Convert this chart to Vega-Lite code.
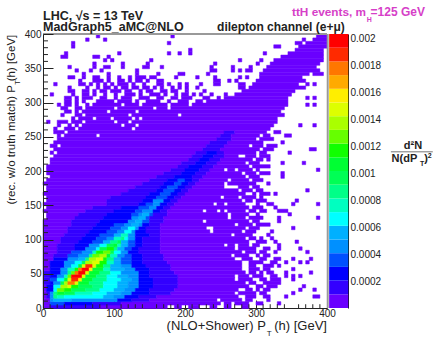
{"$schema":"https://vega.github.io/schema/vega-lite/v6.json","autosize":{"type":"none"},"padding":{"left":43,"top":34,"right":109,"bottom":35},"width":284,"height":274,"background":"white","config":{"view":{"stroke":null},"font":"Liberation Sans"},"datasets":{"cells":[
{"x":0,"x2":10,"y":0,"v":1},{"x":10,"x2":80,"y":0,"v":2},{"x":80,"x2":175,"y":0,"v":1},{"x":185,"x2":195,"y":0,"v":1},{"x":205,"x2":220,"y":0,"v":1},{"x":235,"x2":245,"y":0,"v":1},{"x":255,"x2":265,"y":0,"v":1},{"x":280,"x2":290,"y":0,"v":1},
{"x":0,"x2":10,"y":5,"v":1},{"x":10,"x2":30,"y":5,"v":4},{"x":30,"x2":70,"y":5,"v":3},{"x":70,"x2":110,"y":5,"v":2},{"x":110,"x2":250,"y":5,"v":1},{"x":255,"x2":265,"y":5,"v":1},{"x":270,"x2":290,"y":5,"v":1},{"x":300,"x2":310,"y":5,"v":1},{"x":330,"x2":335,"y":5,"v":1},
{"x":0,"x2":10,"y":10,"v":1},{"x":10,"x2":15,"y":10,"v":5},{"x":15,"x2":40,"y":10,"v":6},{"x":40,"x2":105,"y":10,"v":5},{"x":105,"x2":125,"y":10,"v":3},{"x":125,"x2":150,"y":10,"v":2},{"x":150,"x2":245,"y":10,"v":1},{"x":250,"x2":280,"y":10,"v":1},{"x":285,"x2":295,"y":10,"v":1},{"x":315,"x2":320,"y":10,"v":1},
{"x":0,"x2":5,"y":15,"v":1},{"x":5,"x2":10,"y":15,"v":2},{"x":10,"x2":15,"y":15,"v":5},{"x":15,"x2":20,"y":15,"v":9},{"x":20,"x2":30,"y":15,"v":8},{"x":30,"x2":85,"y":15,"v":7},{"x":85,"x2":100,"y":15,"v":6},{"x":100,"x2":115,"y":15,"v":5},{"x":115,"x2":135,"y":15,"v":3},{"x":135,"x2":160,"y":15,"v":2},{"x":160,"x2":275,"y":15,"v":1},{"x":285,"x2":300,"y":15,"v":1},{"x":310,"x2":320,"y":15,"v":1},{"x":340,"x2":345,"y":15,"v":1},{"x":380,"x2":390,"y":15,"v":1},
{"x":0,"x2":5,"y":20,"v":1},{"x":5,"x2":10,"y":20,"v":2},{"x":10,"x2":15,"y":20,"v":5},{"x":15,"x2":20,"y":20,"v":9},{"x":20,"x2":30,"y":20,"v":11},{"x":30,"x2":45,"y":20,"v":10},{"x":45,"x2":70,"y":20,"v":8},{"x":70,"x2":90,"y":20,"v":7},{"x":90,"x2":110,"y":20,"v":6},{"x":110,"x2":125,"y":20,"v":5},{"x":125,"x2":150,"y":20,"v":3},{"x":150,"x2":180,"y":20,"v":2},{"x":180,"x2":270,"y":20,"v":1},{"x":275,"x2":300,"y":20,"v":1},{"x":305,"x2":315,"y":20,"v":1},{"x":350,"x2":355,"y":20,"v":1},
{"x":0,"x2":5,"y":25,"v":1},{"x":5,"x2":15,"y":25,"v":3},{"x":15,"x2":20,"y":25,"v":7},{"x":20,"x2":30,"y":25,"v":13},{"x":30,"x2":40,"y":25,"v":12},{"x":40,"x2":60,"y":25,"v":10},{"x":60,"x2":80,"y":25,"v":9},{"x":80,"x2":100,"y":25,"v":7},{"x":100,"x2":115,"y":25,"v":6},{"x":115,"x2":130,"y":25,"v":5},{"x":130,"x2":150,"y":25,"v":3},{"x":150,"x2":185,"y":25,"v":2},{"x":185,"x2":275,"y":25,"v":1},{"x":285,"x2":295,"y":25,"v":1},{"x":300,"x2":305,"y":25,"v":1},{"x":310,"x2":320,"y":25,"v":1},{"x":360,"x2":365,"y":25,"v":1},{"x":380,"x2":385,"y":25,"v":1},
{"x":0,"x2":5,"y":30,"v":1},{"x":5,"x2":15,"y":30,"v":3},{"x":15,"x2":25,"y":30,"v":7},{"x":25,"x2":35,"y":30,"v":14},{"x":35,"x2":40,"y":30,"v":15},{"x":40,"x2":50,"y":30,"v":12},{"x":50,"x2":70,"y":30,"v":10},{"x":70,"x2":85,"y":30,"v":9},{"x":85,"x2":105,"y":30,"v":7},{"x":105,"x2":120,"y":30,"v":6},{"x":120,"x2":135,"y":30,"v":5},{"x":135,"x2":155,"y":30,"v":3},{"x":155,"x2":190,"y":30,"v":2},{"x":190,"x2":290,"y":30,"v":1},{"x":300,"x2":310,"y":30,"v":1},{"x":315,"x2":330,"y":30,"v":1},{"x":365,"x2":370,"y":30,"v":1},
{"x":0,"x2":10,"y":35,"v":2},{"x":10,"x2":15,"y":35,"v":3},{"x":15,"x2":25,"y":35,"v":5},{"x":25,"x2":30,"y":35,"v":10},{"x":30,"x2":35,"y":35,"v":14},{"x":35,"x2":45,"y":35,"v":18},{"x":45,"x2":50,"y":35,"v":15},{"x":50,"x2":65,"y":35,"v":11},{"x":65,"x2":85,"y":35,"v":9},{"x":85,"x2":105,"y":35,"v":7},{"x":105,"x2":120,"y":35,"v":6},{"x":120,"x2":135,"y":35,"v":5},{"x":135,"x2":155,"y":35,"v":3},{"x":155,"x2":190,"y":35,"v":2},{"x":190,"x2":285,"y":35,"v":1},{"x":290,"x2":300,"y":35,"v":1},{"x":310,"x2":335,"y":35,"v":1},
{"x":0,"x2":10,"y":40,"v":2},{"x":10,"x2":20,"y":40,"v":4},{"x":20,"x2":30,"y":40,"v":7},{"x":30,"x2":35,"y":40,"v":11},{"x":35,"x2":40,"y":40,"v":15},{"x":40,"x2":50,"y":40,"v":19},{"x":50,"x2":55,"y":40,"v":16},{"x":55,"x2":70,"y":40,"v":11},{"x":70,"x2":90,"y":40,"v":9},{"x":90,"x2":110,"y":40,"v":7},{"x":110,"x2":125,"y":40,"v":6},{"x":125,"x2":135,"y":40,"v":5},{"x":135,"x2":155,"y":40,"v":3},{"x":155,"x2":190,"y":40,"v":2},{"x":190,"x2":270,"y":40,"v":1},{"x":275,"x2":295,"y":40,"v":1},{"x":305,"x2":315,"y":40,"v":1},{"x":320,"x2":335,"y":40,"v":1},{"x":350,"x2":355,"y":40,"v":1},
{"x":0,"x2":10,"y":45,"v":2},{"x":10,"x2":20,"y":45,"v":3},{"x":20,"x2":30,"y":45,"v":5},{"x":30,"x2":35,"y":45,"v":8},{"x":35,"x2":40,"y":45,"v":13},{"x":40,"x2":55,"y":45,"v":20},{"x":55,"x2":60,"y":45,"v":15},{"x":60,"x2":75,"y":45,"v":11},{"x":75,"x2":90,"y":45,"v":9},{"x":90,"x2":105,"y":45,"v":7},{"x":105,"x2":120,"y":45,"v":6},{"x":120,"x2":135,"y":45,"v":5},{"x":135,"x2":150,"y":45,"v":3},{"x":150,"x2":190,"y":45,"v":2},{"x":190,"x2":270,"y":45,"v":1},{"x":275,"x2":290,"y":45,"v":1},{"x":295,"x2":310,"y":45,"v":1},{"x":320,"x2":330,"y":45,"v":1},{"x":340,"x2":345,"y":45,"v":1},{"x":350,"x2":355,"y":45,"v":1},{"x":360,"x2":365,"y":45,"v":1},
{"x":0,"x2":10,"y":50,"v":2},{"x":10,"x2":25,"y":50,"v":3},{"x":25,"x2":35,"y":50,"v":5},{"x":35,"x2":40,"y":50,"v":9},{"x":40,"x2":45,"y":50,"v":13},{"x":45,"x2":50,"y":50,"v":18},{"x":50,"x2":60,"y":50,"v":20},{"x":60,"x2":65,"y":50,"v":15},{"x":65,"x2":80,"y":50,"v":11},{"x":80,"x2":95,"y":50,"v":9},{"x":95,"x2":110,"y":50,"v":7},{"x":110,"x2":135,"y":50,"v":5},{"x":135,"x2":150,"y":50,"v":3},{"x":150,"x2":185,"y":50,"v":2},{"x":185,"x2":285,"y":50,"v":1},{"x":290,"x2":300,"y":50,"v":1},{"x":305,"x2":310,"y":50,"v":1},{"x":315,"x2":325,"y":50,"v":1},{"x":340,"x2":345,"y":50,"v":1},{"x":375,"x2":380,"y":50,"v":1},
{"x":0,"x2":10,"y":55,"v":1},{"x":10,"x2":25,"y":55,"v":3},{"x":25,"x2":35,"y":55,"v":5},{"x":35,"x2":45,"y":55,"v":8},{"x":45,"x2":50,"y":55,"v":12},{"x":50,"x2":55,"y":55,"v":18},{"x":55,"x2":65,"y":55,"v":20},{"x":65,"x2":70,"y":55,"v":16},{"x":70,"x2":85,"y":55,"v":11},{"x":85,"x2":95,"y":55,"v":8},{"x":95,"x2":115,"y":55,"v":6},{"x":115,"x2":130,"y":55,"v":5},{"x":130,"x2":150,"y":55,"v":3},{"x":150,"x2":180,"y":55,"v":2},{"x":180,"x2":280,"y":55,"v":1},{"x":290,"x2":305,"y":55,"v":1},{"x":310,"x2":320,"y":55,"v":1},{"x":350,"x2":355,"y":55,"v":1},
{"x":0,"x2":10,"y":60,"v":1},{"x":10,"x2":30,"y":60,"v":3},{"x":30,"x2":40,"y":60,"v":5},{"x":40,"x2":50,"y":60,"v":7},{"x":50,"x2":55,"y":60,"v":11},{"x":55,"x2":60,"y":60,"v":15},{"x":60,"x2":70,"y":60,"v":19},{"x":70,"x2":75,"y":60,"v":15},{"x":75,"x2":85,"y":60,"v":12},{"x":85,"x2":95,"y":60,"v":9},{"x":95,"x2":110,"y":60,"v":6},{"x":110,"x2":125,"y":60,"v":5},{"x":125,"x2":145,"y":60,"v":3},{"x":145,"x2":180,"y":60,"v":2},{"x":180,"x2":280,"y":60,"v":1},{"x":290,"x2":300,"y":60,"v":1},{"x":310,"x2":325,"y":60,"v":1},{"x":330,"x2":335,"y":60,"v":1},
{"x":0,"x2":10,"y":65,"v":1},{"x":10,"x2":30,"y":65,"v":3},{"x":30,"x2":45,"y":65,"v":5},{"x":45,"x2":55,"y":65,"v":7},{"x":55,"x2":60,"y":65,"v":10},{"x":60,"x2":70,"y":65,"v":14},{"x":70,"x2":80,"y":65,"v":15},{"x":80,"x2":90,"y":65,"v":12},{"x":90,"x2":100,"y":65,"v":8},{"x":100,"x2":110,"y":65,"v":6},{"x":110,"x2":125,"y":65,"v":4},{"x":125,"x2":140,"y":65,"v":3},{"x":140,"x2":175,"y":65,"v":2},{"x":175,"x2":280,"y":65,"v":1},{"x":290,"x2":310,"y":65,"v":1},{"x":320,"x2":330,"y":65,"v":1},{"x":340,"x2":345,"y":65,"v":1},{"x":360,"x2":365,"y":65,"v":1},{"x":370,"x2":375,"y":65,"v":1},
{"x":0,"x2":15,"y":70,"v":1},{"x":15,"x2":35,"y":70,"v":3},{"x":35,"x2":50,"y":70,"v":5},{"x":50,"x2":60,"y":70,"v":6},{"x":60,"x2":65,"y":70,"v":9},{"x":65,"x2":75,"y":70,"v":14},{"x":75,"x2":85,"y":70,"v":15},{"x":85,"x2":90,"y":70,"v":12},{"x":90,"x2":100,"y":70,"v":9},{"x":100,"x2":110,"y":70,"v":6},{"x":110,"x2":125,"y":70,"v":4},{"x":125,"x2":140,"y":70,"v":3},{"x":140,"x2":170,"y":70,"v":2},{"x":170,"x2":270,"y":70,"v":1},{"x":280,"x2":295,"y":70,"v":1},{"x":305,"x2":315,"y":70,"v":1},{"x":325,"x2":335,"y":70,"v":1},{"x":350,"x2":355,"y":70,"v":1},{"x":375,"x2":380,"y":70,"v":1},
{"x":0,"x2":15,"y":75,"v":1},{"x":15,"x2":35,"y":75,"v":2},{"x":35,"x2":50,"y":75,"v":4},{"x":50,"x2":65,"y":75,"v":5},{"x":65,"x2":70,"y":75,"v":9},{"x":70,"x2":80,"y":75,"v":13},{"x":80,"x2":90,"y":75,"v":14},{"x":90,"x2":95,"y":75,"v":11},{"x":95,"x2":105,"y":75,"v":8},{"x":105,"x2":115,"y":75,"v":5},{"x":115,"x2":125,"y":75,"v":4},{"x":125,"x2":140,"y":75,"v":3},{"x":140,"x2":170,"y":75,"v":2},{"x":170,"x2":265,"y":75,"v":1},{"x":270,"x2":290,"y":75,"v":1},{"x":300,"x2":305,"y":75,"v":1},{"x":310,"x2":320,"y":75,"v":1},
{"x":0,"x2":20,"y":80,"v":1},{"x":20,"x2":40,"y":80,"v":2},{"x":40,"x2":55,"y":80,"v":4},{"x":55,"x2":70,"y":80,"v":5},{"x":70,"x2":75,"y":80,"v":8},{"x":75,"x2":85,"y":80,"v":12},{"x":85,"x2":95,"y":80,"v":13},{"x":95,"x2":100,"y":80,"v":10},{"x":100,"x2":110,"y":80,"v":7},{"x":110,"x2":120,"y":80,"v":5},{"x":120,"x2":135,"y":80,"v":3},{"x":135,"x2":165,"y":80,"v":2},{"x":165,"x2":280,"y":80,"v":1},{"x":285,"x2":300,"y":80,"v":1},{"x":305,"x2":315,"y":80,"v":1},{"x":325,"x2":330,"y":80,"v":1},{"x":370,"x2":375,"y":80,"v":1},
{"x":0,"x2":20,"y":85,"v":1},{"x":20,"x2":45,"y":85,"v":2},{"x":45,"x2":60,"y":85,"v":3},{"x":60,"x2":75,"y":85,"v":5},{"x":75,"x2":80,"y":85,"v":7},{"x":80,"x2":90,"y":85,"v":10},{"x":90,"x2":100,"y":85,"v":12},{"x":100,"x2":105,"y":85,"v":9},{"x":105,"x2":115,"y":85,"v":6},{"x":115,"x2":125,"y":85,"v":4},{"x":125,"x2":135,"y":85,"v":3},{"x":135,"x2":165,"y":85,"v":2},{"x":165,"x2":270,"y":85,"v":1},{"x":275,"x2":300,"y":85,"v":1},{"x":310,"x2":320,"y":85,"v":1},{"x":330,"x2":335,"y":85,"v":1},{"x":360,"x2":365,"y":85,"v":1},
{"x":0,"x2":20,"y":90,"v":1},{"x":20,"x2":45,"y":90,"v":2},{"x":45,"x2":65,"y":90,"v":3},{"x":65,"x2":80,"y":90,"v":5},{"x":80,"x2":90,"y":90,"v":7},{"x":90,"x2":100,"y":90,"v":10},{"x":100,"x2":105,"y":90,"v":11},{"x":105,"x2":110,"y":90,"v":8},{"x":110,"x2":120,"y":90,"v":6},{"x":120,"x2":130,"y":90,"v":4},{"x":130,"x2":140,"y":90,"v":3},{"x":140,"x2":165,"y":90,"v":2},{"x":165,"x2":255,"y":90,"v":1},{"x":260,"x2":270,"y":90,"v":1},{"x":275,"x2":290,"y":90,"v":1},{"x":295,"x2":305,"y":90,"v":1},{"x":330,"x2":335,"y":90,"v":1},
{"x":0,"x2":25,"y":95,"v":1},{"x":25,"x2":50,"y":95,"v":2},{"x":50,"x2":70,"y":95,"v":3},{"x":70,"x2":85,"y":95,"v":4},{"x":85,"x2":95,"y":95,"v":6},{"x":95,"x2":105,"y":95,"v":9},{"x":105,"x2":110,"y":95,"v":10},{"x":110,"x2":120,"y":95,"v":6},{"x":120,"x2":130,"y":95,"v":4},{"x":130,"x2":140,"y":95,"v":3},{"x":140,"x2":165,"y":95,"v":2},{"x":165,"x2":290,"y":95,"v":1},{"x":300,"x2":315,"y":95,"v":1},{"x":325,"x2":330,"y":95,"v":1},{"x":355,"x2":360,"y":95,"v":1},
{"x":0,"x2":25,"y":100,"v":1},{"x":25,"x2":55,"y":100,"v":2},{"x":55,"x2":75,"y":100,"v":3},{"x":75,"x2":90,"y":100,"v":4},{"x":90,"x2":100,"y":100,"v":5},{"x":100,"x2":110,"y":100,"v":8},{"x":110,"x2":115,"y":100,"v":9},{"x":115,"x2":120,"y":100,"v":7},{"x":120,"x2":130,"y":100,"v":5},{"x":130,"x2":140,"y":100,"v":3},{"x":140,"x2":165,"y":100,"v":2},{"x":165,"x2":285,"y":100,"v":1},{"x":290,"x2":300,"y":100,"v":1},{"x":305,"x2":310,"y":100,"v":1},{"x":320,"x2":325,"y":100,"v":1},
{"x":0,"x2":30,"y":105,"v":1},{"x":30,"x2":60,"y":105,"v":2},{"x":60,"x2":80,"y":105,"v":3},{"x":80,"x2":100,"y":105,"v":4},{"x":100,"x2":110,"y":105,"v":6},{"x":110,"x2":120,"y":105,"v":8},{"x":120,"x2":130,"y":105,"v":5},{"x":130,"x2":150,"y":105,"v":3},{"x":150,"x2":165,"y":105,"v":2},{"x":165,"x2":265,"y":105,"v":1},{"x":270,"x2":295,"y":105,"v":1},{"x":315,"x2":320,"y":105,"v":1},
{"x":0,"x2":35,"y":110,"v":1},{"x":35,"x2":65,"y":110,"v":2},{"x":65,"x2":90,"y":110,"v":3},{"x":90,"x2":105,"y":110,"v":4},{"x":105,"x2":115,"y":110,"v":5},{"x":115,"x2":125,"y":110,"v":7},{"x":125,"x2":130,"y":110,"v":5},{"x":130,"x2":145,"y":110,"v":3},{"x":145,"x2":165,"y":110,"v":2},{"x":165,"x2":235,"y":110,"v":1},{"x":240,"x2":280,"y":110,"v":1},{"x":285,"x2":300,"y":110,"v":1},{"x":320,"x2":325,"y":110,"v":1},
{"x":0,"x2":35,"y":115,"v":1},{"x":35,"x2":70,"y":115,"v":2},{"x":70,"x2":95,"y":115,"v":3},{"x":95,"x2":110,"y":115,"v":4},{"x":110,"x2":120,"y":115,"v":5},{"x":120,"x2":130,"y":115,"v":7},{"x":130,"x2":135,"y":115,"v":5},{"x":135,"x2":145,"y":115,"v":3},{"x":145,"x2":165,"y":115,"v":2},{"x":165,"x2":230,"y":115,"v":1},{"x":240,"x2":285,"y":115,"v":1},{"x":290,"x2":305,"y":115,"v":1},{"x":350,"x2":355,"y":115,"v":1},
{"x":0,"x2":40,"y":120,"v":1},{"x":40,"x2":75,"y":120,"v":2},{"x":75,"x2":100,"y":120,"v":3},{"x":100,"x2":115,"y":120,"v":4},{"x":115,"x2":125,"y":120,"v":5},{"x":125,"x2":135,"y":120,"v":6},{"x":135,"x2":140,"y":120,"v":5},{"x":140,"x2":150,"y":120,"v":3},{"x":150,"x2":165,"y":120,"v":2},{"x":165,"x2":270,"y":120,"v":1},{"x":275,"x2":295,"y":120,"v":1},{"x":300,"x2":320,"y":120,"v":1},
{"x":0,"x2":40,"y":125,"v":1},{"x":40,"x2":80,"y":125,"v":2},{"x":80,"x2":120,"y":125,"v":3},{"x":120,"x2":130,"y":125,"v":5},{"x":130,"x2":140,"y":125,"v":6},{"x":140,"x2":150,"y":125,"v":4},{"x":150,"x2":170,"y":125,"v":2},{"x":170,"x2":225,"y":125,"v":1},{"x":230,"x2":290,"y":125,"v":1},{"x":295,"x2":305,"y":125,"v":1},{"x":330,"x2":335,"y":125,"v":1},
{"x":5,"x2":45,"y":130,"v":1},{"x":45,"x2":85,"y":130,"v":2},{"x":85,"x2":125,"y":130,"v":3},{"x":125,"x2":135,"y":130,"v":5},{"x":135,"x2":145,"y":130,"v":6},{"x":145,"x2":150,"y":130,"v":4},{"x":150,"x2":170,"y":130,"v":2},{"x":170,"x2":260,"y":130,"v":1},{"x":265,"x2":285,"y":130,"v":1},{"x":290,"x2":310,"y":130,"v":1},{"x":330,"x2":335,"y":130,"v":1},{"x":385,"x2":390,"y":130,"v":1},
{"x":5,"x2":50,"y":135,"v":1},{"x":50,"x2":90,"y":135,"v":2},{"x":90,"x2":125,"y":135,"v":3},{"x":125,"x2":135,"y":135,"v":4},{"x":135,"x2":140,"y":135,"v":5},{"x":140,"x2":150,"y":135,"v":6},{"x":150,"x2":155,"y":135,"v":4},{"x":155,"x2":175,"y":135,"v":2},{"x":175,"x2":260,"y":135,"v":1},{"x":265,"x2":290,"y":135,"v":1},{"x":300,"x2":305,"y":135,"v":1},{"x":345,"x2":350,"y":135,"v":1},
{"x":0,"x2":60,"y":140,"v":1},{"x":60,"x2":100,"y":140,"v":2},{"x":100,"x2":130,"y":140,"v":3},{"x":130,"x2":140,"y":140,"v":4},{"x":140,"x2":155,"y":140,"v":5},{"x":155,"x2":165,"y":140,"v":3},{"x":165,"x2":175,"y":140,"v":2},{"x":175,"x2":225,"y":140,"v":1},{"x":230,"x2":245,"y":140,"v":1},{"x":250,"x2":255,"y":140,"v":1},{"x":260,"x2":285,"y":140,"v":1},{"x":290,"x2":300,"y":140,"v":1},{"x":305,"x2":315,"y":140,"v":1},{"x":330,"x2":345,"y":140,"v":1},
{"x":5,"x2":70,"y":145,"v":1},{"x":70,"x2":110,"y":145,"v":2},{"x":110,"x2":135,"y":145,"v":3},{"x":135,"x2":150,"y":145,"v":4},{"x":150,"x2":160,"y":145,"v":5},{"x":160,"x2":170,"y":145,"v":3},{"x":170,"x2":180,"y":145,"v":2},{"x":180,"x2":290,"y":145,"v":1},{"x":295,"x2":310,"y":145,"v":1},{"x":325,"x2":330,"y":145,"v":1},
{"x":0,"x2":90,"y":150,"v":1},{"x":90,"x2":135,"y":150,"v":2},{"x":135,"x2":145,"y":150,"v":3},{"x":145,"x2":155,"y":150,"v":4},{"x":155,"x2":165,"y":150,"v":5},{"x":165,"x2":175,"y":150,"v":3},{"x":175,"x2":185,"y":150,"v":2},{"x":185,"x2":240,"y":150,"v":1},{"x":245,"x2":255,"y":150,"v":1},{"x":260,"x2":285,"y":150,"v":1},{"x":300,"x2":305,"y":150,"v":1},{"x":315,"x2":325,"y":150,"v":1},{"x":350,"x2":355,"y":150,"v":1},{"x":385,"x2":390,"y":150,"v":1},
{"x":5,"x2":90,"y":155,"v":1},{"x":90,"x2":140,"y":155,"v":2},{"x":140,"x2":155,"y":155,"v":3},{"x":155,"x2":170,"y":155,"v":5},{"x":170,"x2":180,"y":155,"v":3},{"x":180,"x2":190,"y":155,"v":2},{"x":190,"x2":280,"y":155,"v":1},{"x":285,"x2":295,"y":155,"v":1},{"x":300,"x2":315,"y":155,"v":1},{"x":355,"x2":360,"y":155,"v":1},
{"x":5,"x2":95,"y":160,"v":1},{"x":95,"x2":145,"y":160,"v":2},{"x":145,"x2":160,"y":160,"v":3},{"x":160,"x2":175,"y":160,"v":4},{"x":175,"x2":185,"y":160,"v":3},{"x":185,"x2":195,"y":160,"v":2},{"x":195,"x2":250,"y":160,"v":1},{"x":255,"x2":275,"y":160,"v":1},{"x":280,"x2":300,"y":160,"v":1},{"x":305,"x2":310,"y":160,"v":1},
{"x":0,"x2":110,"y":165,"v":1},{"x":110,"x2":150,"y":165,"v":2},{"x":150,"x2":165,"y":165,"v":3},{"x":165,"x2":180,"y":165,"v":4},{"x":180,"x2":190,"y":165,"v":3},{"x":190,"x2":200,"y":165,"v":2},{"x":200,"x2":285,"y":165,"v":1},{"x":295,"x2":300,"y":165,"v":1},{"x":305,"x2":320,"y":165,"v":1},{"x":325,"x2":330,"y":165,"v":1},
{"x":5,"x2":120,"y":170,"v":1},{"x":120,"x2":160,"y":170,"v":2},{"x":160,"x2":170,"y":170,"v":3},{"x":170,"x2":185,"y":170,"v":4},{"x":185,"x2":195,"y":170,"v":3},{"x":195,"x2":205,"y":170,"v":2},{"x":205,"x2":275,"y":170,"v":1},{"x":280,"x2":295,"y":170,"v":1},{"x":300,"x2":310,"y":170,"v":1},{"x":370,"x2":375,"y":170,"v":1},
{"x":5,"x2":130,"y":175,"v":1},{"x":130,"x2":165,"y":175,"v":2},{"x":165,"x2":175,"y":175,"v":3},{"x":175,"x2":190,"y":175,"v":4},{"x":190,"x2":200,"y":175,"v":3},{"x":200,"x2":210,"y":175,"v":2},{"x":210,"x2":255,"y":175,"v":1},{"x":275,"x2":290,"y":175,"v":1},{"x":295,"x2":305,"y":175,"v":1},
{"x":0,"x2":140,"y":180,"v":1},{"x":140,"x2":170,"y":180,"v":2},{"x":170,"x2":185,"y":180,"v":3},{"x":185,"x2":195,"y":180,"v":4},{"x":195,"x2":205,"y":180,"v":3},{"x":205,"x2":215,"y":180,"v":2},{"x":215,"x2":255,"y":180,"v":1},{"x":260,"x2":300,"y":180,"v":1},{"x":315,"x2":320,"y":180,"v":1},
{"x":5,"x2":150,"y":185,"v":1},{"x":150,"x2":175,"y":185,"v":2},{"x":175,"x2":190,"y":185,"v":3},{"x":190,"x2":200,"y":185,"v":4},{"x":200,"x2":210,"y":185,"v":3},{"x":210,"x2":220,"y":185,"v":2},{"x":220,"x2":260,"y":185,"v":1},{"x":265,"x2":290,"y":185,"v":1},{"x":295,"x2":310,"y":185,"v":1},
{"x":10,"x2":160,"y":190,"v":1},{"x":160,"x2":185,"y":190,"v":2},{"x":185,"x2":210,"y":190,"v":3},{"x":210,"x2":225,"y":190,"v":2},{"x":225,"x2":285,"y":190,"v":1},{"x":290,"x2":305,"y":190,"v":1},{"x":335,"x2":340,"y":190,"v":1},
{"x":5,"x2":170,"y":195,"v":1},{"x":170,"x2":195,"y":195,"v":2},{"x":195,"x2":215,"y":195,"v":3},{"x":215,"x2":230,"y":195,"v":2},{"x":230,"x2":280,"y":195,"v":1},{"x":285,"x2":300,"y":195,"v":1},{"x":305,"x2":320,"y":195,"v":1},{"x":335,"x2":340,"y":195,"v":1},
{"x":5,"x2":180,"y":200,"v":1},{"x":180,"x2":200,"y":200,"v":2},{"x":200,"x2":220,"y":200,"v":3},{"x":220,"x2":235,"y":200,"v":2},{"x":235,"x2":255,"y":200,"v":1},{"x":260,"x2":270,"y":200,"v":1},{"x":275,"x2":295,"y":200,"v":1},{"x":300,"x2":305,"y":200,"v":1},{"x":385,"x2":390,"y":200,"v":1},
{"x":5,"x2":190,"y":205,"v":1},{"x":190,"x2":205,"y":205,"v":2},{"x":205,"x2":225,"y":205,"v":3},{"x":225,"x2":240,"y":205,"v":2},{"x":240,"x2":290,"y":205,"v":1},{"x":295,"x2":320,"y":205,"v":1},
{"x":10,"x2":195,"y":210,"v":1},{"x":195,"x2":215,"y":210,"v":2},{"x":215,"x2":230,"y":210,"v":3},{"x":230,"x2":245,"y":210,"v":2},{"x":245,"x2":285,"y":210,"v":1},{"x":290,"x2":305,"y":210,"v":1},{"x":335,"x2":340,"y":210,"v":1},{"x":365,"x2":370,"y":210,"v":1},
{"x":10,"x2":205,"y":215,"v":1},{"x":205,"x2":220,"y":215,"v":2},{"x":220,"x2":235,"y":215,"v":3},{"x":235,"x2":250,"y":215,"v":2},{"x":250,"x2":295,"y":215,"v":1},{"x":300,"x2":310,"y":215,"v":1},{"x":315,"x2":320,"y":215,"v":1},
{"x":15,"x2":210,"y":220,"v":1},{"x":210,"x2":225,"y":220,"v":2},{"x":225,"x2":240,"y":220,"v":3},{"x":240,"x2":255,"y":220,"v":2},{"x":255,"x2":275,"y":220,"v":1},{"x":285,"x2":300,"y":220,"v":1},{"x":305,"x2":320,"y":220,"v":1},
{"x":10,"x2":15,"y":225,"v":1},{"x":20,"x2":215,"y":225,"v":1},{"x":215,"x2":230,"y":225,"v":2},{"x":230,"x2":245,"y":225,"v":3},{"x":245,"x2":255,"y":225,"v":2},{"x":255,"x2":300,"y":225,"v":1},{"x":305,"x2":315,"y":225,"v":1},{"x":345,"x2":350,"y":225,"v":1},
{"x":15,"x2":225,"y":230,"v":1},{"x":225,"x2":250,"y":230,"v":2},{"x":250,"x2":305,"y":230,"v":1},{"x":310,"x2":325,"y":230,"v":1},{"x":375,"x2":385,"y":230,"v":1},
{"x":10,"x2":20,"y":235,"v":1},{"x":25,"x2":230,"y":235,"v":1},{"x":230,"x2":255,"y":235,"v":2},{"x":255,"x2":290,"y":235,"v":1},{"x":295,"x2":310,"y":235,"v":1},{"x":315,"x2":330,"y":235,"v":1},
{"x":15,"x2":235,"y":240,"v":1},{"x":235,"x2":260,"y":240,"v":2},{"x":260,"x2":310,"y":240,"v":1},{"x":335,"x2":340,"y":240,"v":1},
{"x":20,"x2":245,"y":245,"v":1},{"x":245,"x2":265,"y":245,"v":2},{"x":265,"x2":300,"y":245,"v":1},{"x":305,"x2":325,"y":245,"v":1},
{"x":20,"x2":25,"y":250,"v":1},{"x":30,"x2":75,"y":250,"v":1},{"x":80,"x2":250,"y":250,"v":1},{"x":250,"x2":265,"y":250,"v":2},{"x":265,"x2":305,"y":250,"v":1},{"x":310,"x2":320,"y":250,"v":1},{"x":340,"x2":350,"y":250,"v":1},
{"x":15,"x2":30,"y":255,"v":1},{"x":35,"x2":255,"y":255,"v":1},{"x":255,"x2":270,"y":255,"v":2},{"x":270,"x2":315,"y":255,"v":1},{"x":325,"x2":335,"y":255,"v":1},
{"x":15,"x2":20,"y":260,"v":1},{"x":30,"x2":45,"y":260,"v":1},{"x":50,"x2":125,"y":260,"v":1},{"x":130,"x2":320,"y":260,"v":1},
{"x":20,"x2":25,"y":265,"v":1},{"x":35,"x2":40,"y":265,"v":1},{"x":45,"x2":50,"y":265,"v":1},{"x":55,"x2":110,"y":265,"v":1},{"x":115,"x2":130,"y":265,"v":1},{"x":135,"x2":325,"y":265,"v":1},{"x":360,"x2":365,"y":265,"v":1},{"x":380,"x2":385,"y":265,"v":1},
{"x":5,"x2":10,"y":270,"v":1},{"x":20,"x2":35,"y":270,"v":1},{"x":40,"x2":55,"y":270,"v":1},{"x":60,"x2":100,"y":270,"v":1},{"x":105,"x2":120,"y":270,"v":1},{"x":125,"x2":330,"y":270,"v":1},
{"x":40,"x2":45,"y":275,"v":1},{"x":50,"x2":70,"y":275,"v":1},{"x":75,"x2":95,"y":275,"v":1},{"x":100,"x2":125,"y":275,"v":1},{"x":130,"x2":135,"y":275,"v":1},{"x":140,"x2":330,"y":275,"v":1},
{"x":25,"x2":30,"y":280,"v":1},{"x":45,"x2":55,"y":280,"v":1},{"x":60,"x2":120,"y":280,"v":1},{"x":125,"x2":190,"y":280,"v":1},{"x":195,"x2":340,"y":280,"v":1},
{"x":30,"x2":40,"y":285,"v":1},{"x":45,"x2":50,"y":285,"v":1},{"x":55,"x2":90,"y":285,"v":1},{"x":95,"x2":130,"y":285,"v":1},{"x":135,"x2":335,"y":285,"v":1},
{"x":25,"x2":35,"y":290,"v":1},{"x":45,"x2":55,"y":290,"v":1},{"x":60,"x2":100,"y":290,"v":1},{"x":105,"x2":155,"y":290,"v":1},{"x":160,"x2":175,"y":290,"v":1},{"x":180,"x2":340,"y":290,"v":1},
{"x":20,"x2":25,"y":295,"v":1},{"x":30,"x2":40,"y":295,"v":1},{"x":45,"x2":50,"y":295,"v":1},{"x":60,"x2":65,"y":295,"v":1},{"x":70,"x2":110,"y":295,"v":1},{"x":115,"x2":135,"y":295,"v":1},{"x":140,"x2":175,"y":295,"v":1},{"x":180,"x2":205,"y":295,"v":1},{"x":210,"x2":345,"y":295,"v":1},{"x":370,"x2":375,"y":295,"v":1},{"x":380,"x2":385,"y":295,"v":1},
{"x":30,"x2":40,"y":300,"v":1},{"x":45,"x2":50,"y":300,"v":1},{"x":55,"x2":60,"y":300,"v":1},{"x":75,"x2":100,"y":300,"v":1},{"x":105,"x2":125,"y":300,"v":1},{"x":130,"x2":135,"y":300,"v":1},{"x":145,"x2":165,"y":300,"v":1},{"x":175,"x2":180,"y":300,"v":1},{"x":190,"x2":205,"y":300,"v":1},{"x":215,"x2":225,"y":300,"v":1},{"x":230,"x2":345,"y":300,"v":1},
{"x":30,"x2":40,"y":305,"v":1},{"x":45,"x2":50,"y":305,"v":1},{"x":55,"x2":70,"y":305,"v":1},{"x":80,"x2":90,"y":305,"v":1},{"x":100,"x2":105,"y":305,"v":1},{"x":110,"x2":125,"y":305,"v":1},{"x":135,"x2":150,"y":305,"v":1},{"x":160,"x2":170,"y":305,"v":1},{"x":180,"x2":190,"y":305,"v":1},{"x":195,"x2":210,"y":305,"v":1},{"x":225,"x2":235,"y":305,"v":1},{"x":245,"x2":250,"y":305,"v":1},{"x":255,"x2":345,"y":305,"v":1},{"x":370,"x2":375,"y":305,"v":1},{"x":380,"x2":385,"y":305,"v":1},
{"x":10,"x2":15,"y":310,"v":1},{"x":40,"x2":45,"y":310,"v":1},{"x":55,"x2":65,"y":310,"v":1},{"x":70,"x2":75,"y":310,"v":1},{"x":85,"x2":90,"y":310,"v":1},{"x":100,"x2":105,"y":310,"v":1},{"x":115,"x2":130,"y":310,"v":1},{"x":135,"x2":140,"y":310,"v":1},{"x":150,"x2":165,"y":310,"v":1},{"x":170,"x2":175,"y":310,"v":1},{"x":185,"x2":190,"y":310,"v":1},{"x":195,"x2":205,"y":310,"v":1},{"x":210,"x2":215,"y":310,"v":1},{"x":220,"x2":225,"y":310,"v":1},{"x":235,"x2":240,"y":310,"v":1},{"x":255,"x2":260,"y":310,"v":1},{"x":270,"x2":350,"y":310,"v":1},
{"x":35,"x2":45,"y":315,"v":1},{"x":55,"x2":65,"y":315,"v":1},{"x":70,"x2":75,"y":315,"v":1},{"x":80,"x2":90,"y":315,"v":1},{"x":95,"x2":110,"y":315,"v":1},{"x":115,"x2":125,"y":315,"v":1},{"x":135,"x2":140,"y":315,"v":1},{"x":145,"x2":155,"y":315,"v":1},{"x":165,"x2":175,"y":315,"v":1},{"x":180,"x2":190,"y":315,"v":1},{"x":200,"x2":205,"y":315,"v":1},{"x":225,"x2":230,"y":315,"v":1},{"x":280,"x2":355,"y":315,"v":1},
{"x":35,"x2":40,"y":320,"v":1},{"x":60,"x2":65,"y":320,"v":1},{"x":75,"x2":80,"y":320,"v":1},{"x":85,"x2":95,"y":320,"v":1},{"x":100,"x2":105,"y":320,"v":1},{"x":110,"x2":120,"y":320,"v":1},{"x":125,"x2":135,"y":320,"v":1},{"x":140,"x2":150,"y":320,"v":1},{"x":155,"x2":160,"y":320,"v":1},{"x":165,"x2":170,"y":320,"v":1},{"x":180,"x2":185,"y":320,"v":1},{"x":190,"x2":195,"y":320,"v":1},{"x":200,"x2":205,"y":320,"v":1},{"x":215,"x2":220,"y":320,"v":1},{"x":275,"x2":285,"y":320,"v":1},{"x":290,"x2":370,"y":320,"v":1},
{"x":15,"x2":20,"y":325,"v":1},{"x":50,"x2":60,"y":325,"v":1},{"x":65,"x2":70,"y":325,"v":1},{"x":75,"x2":80,"y":325,"v":1},{"x":85,"x2":90,"y":325,"v":1},{"x":95,"x2":100,"y":325,"v":1},{"x":105,"x2":120,"y":325,"v":1},{"x":125,"x2":130,"y":325,"v":1},{"x":140,"x2":145,"y":325,"v":1},{"x":160,"x2":170,"y":325,"v":1},{"x":175,"x2":180,"y":325,"v":1},{"x":190,"x2":195,"y":325,"v":1},{"x":200,"x2":205,"y":325,"v":1},{"x":220,"x2":225,"y":325,"v":1},{"x":240,"x2":250,"y":325,"v":1},{"x":275,"x2":285,"y":325,"v":1},{"x":295,"x2":360,"y":325,"v":1},{"x":370,"x2":375,"y":325,"v":1},{"x":380,"x2":385,"y":325,"v":1},
{"x":50,"x2":55,"y":330,"v":1},{"x":70,"x2":85,"y":330,"v":1},{"x":90,"x2":95,"y":330,"v":1},{"x":105,"x2":115,"y":330,"v":1},{"x":120,"x2":125,"y":330,"v":1},{"x":130,"x2":140,"y":330,"v":1},{"x":145,"x2":150,"y":330,"v":1},{"x":160,"x2":170,"y":330,"v":1},{"x":240,"x2":250,"y":330,"v":1},{"x":260,"x2":265,"y":330,"v":1},{"x":270,"x2":275,"y":330,"v":1},{"x":300,"x2":370,"y":330,"v":1},
{"x":35,"x2":45,"y":335,"v":1},{"x":55,"x2":60,"y":335,"v":1},{"x":70,"x2":80,"y":335,"v":1},{"x":90,"x2":95,"y":335,"v":1},{"x":105,"x2":110,"y":335,"v":1},{"x":120,"x2":125,"y":335,"v":1},{"x":130,"x2":145,"y":335,"v":1},{"x":150,"x2":160,"y":335,"v":1},{"x":185,"x2":190,"y":335,"v":1},{"x":215,"x2":220,"y":335,"v":1},{"x":240,"x2":245,"y":335,"v":1},{"x":275,"x2":280,"y":335,"v":1},{"x":285,"x2":290,"y":335,"v":1},{"x":305,"x2":365,"y":335,"v":1},
{"x":55,"x2":60,"y":340,"v":1},{"x":90,"x2":95,"y":340,"v":1},{"x":130,"x2":135,"y":340,"v":1},{"x":160,"x2":165,"y":340,"v":1},{"x":190,"x2":200,"y":340,"v":1},{"x":230,"x2":235,"y":340,"v":1},{"x":305,"x2":375,"y":340,"v":1},{"x":380,"x2":395,"y":340,"v":1},
{"x":45,"x2":50,"y":345,"v":1},{"x":65,"x2":70,"y":345,"v":1},{"x":80,"x2":85,"y":345,"v":1},{"x":130,"x2":135,"y":345,"v":1},{"x":235,"x2":245,"y":345,"v":1},{"x":265,"x2":270,"y":345,"v":1},{"x":275,"x2":280,"y":345,"v":1},{"x":285,"x2":295,"y":345,"v":1},{"x":310,"x2":390,"y":345,"v":1},
{"x":35,"x2":40,"y":350,"v":1},{"x":70,"x2":75,"y":350,"v":1},{"x":85,"x2":95,"y":350,"v":1},{"x":110,"x2":115,"y":350,"v":1},{"x":140,"x2":150,"y":350,"v":1},{"x":165,"x2":170,"y":350,"v":1},{"x":235,"x2":240,"y":350,"v":1},{"x":265,"x2":270,"y":350,"v":1},{"x":290,"x2":295,"y":350,"v":1},{"x":315,"x2":385,"y":350,"v":1},
{"x":70,"x2":75,"y":355,"v":1},{"x":110,"x2":115,"y":355,"v":1},{"x":145,"x2":150,"y":355,"v":1},{"x":240,"x2":245,"y":355,"v":1},{"x":300,"x2":305,"y":355,"v":1},{"x":320,"x2":390,"y":355,"v":1},
{"x":85,"x2":90,"y":360,"v":1},{"x":95,"x2":100,"y":360,"v":1},{"x":150,"x2":155,"y":360,"v":1},{"x":275,"x2":280,"y":360,"v":1},{"x":305,"x2":310,"y":360,"v":1},{"x":325,"x2":395,"y":360,"v":1},
{"x":25,"x2":35,"y":365,"v":1},{"x":70,"x2":80,"y":365,"v":1},{"x":90,"x2":95,"y":365,"v":1},{"x":335,"x2":395,"y":365,"v":1},
{"x":30,"x2":35,"y":370,"v":1},{"x":105,"x2":110,"y":370,"v":1},{"x":175,"x2":180,"y":370,"v":1},{"x":190,"x2":195,"y":370,"v":1},{"x":205,"x2":210,"y":370,"v":1},{"x":310,"x2":315,"y":370,"v":1},{"x":345,"x2":395,"y":370,"v":1},
{"x":205,"x2":210,"y":375,"v":1},{"x":355,"x2":395,"y":375,"v":1},
{"x":40,"x2":45,"y":380,"v":1},{"x":325,"x2":335,"y":380,"v":1},{"x":360,"x2":400,"y":380,"v":1},
{"x":40,"x2":45,"y":385,"v":1},{"x":175,"x2":180,"y":385,"v":1},{"x":355,"x2":365,"y":385,"v":1},{"x":370,"x2":400,"y":385,"v":1},
{"x":60,"x2":65,"y":390,"v":1},{"x":85,"x2":90,"y":390,"v":1},{"x":365,"x2":370,"y":390,"v":1},{"x":380,"x2":400,"y":390,"v":1},
{"x":75,"x2":80,"y":395,"v":1},{"x":180,"x2":185,"y":395,"v":1},{"x":385,"x2":400,"y":395,"v":1}
],"bands":[{"lo":0,"hi":0.0001015,"v":1},{"lo":0.0001015,"hi":0.000203,"v":2},{"lo":0.000203,"hi":0.0003045,"v":3},{"lo":0.0003045,"hi":0.000406,"v":4},{"lo":0.000406,"hi":0.0005075,"v":5},{"lo":0.0005075,"hi":0.000609,"v":6},{"lo":0.000609,"hi":0.0007105,"v":7},{"lo":0.0007105,"hi":0.000812,"v":8},{"lo":0.000812,"hi":0.0009135,"v":9},{"lo":0.0009135,"hi":0.001015,"v":10},{"lo":0.001015,"hi":0.0011165,"v":11},{"lo":0.0011165,"hi":0.001218,"v":12},{"lo":0.001218,"hi":0.0013195,"v":13},{"lo":0.0013195,"hi":0.001421,"v":14},{"lo":0.001421,"hi":0.0015225,"v":15},{"lo":0.0015225,"hi":0.001624,"v":16},{"lo":0.001624,"hi":0.0017255,"v":17},{"lo":0.0017255,"hi":0.001827,"v":18},{"lo":0.001827,"hi":0.0019285,"v":19},{"lo":0.0019285,"hi":0.00203,"v":20}],"minor":[{"t":10},{"t":20},{"t":30},{"t":40},{"t":60},{"t":70},{"t":80},{"t":90},{"t":110},{"t":120},{"t":130},{"t":140},{"t":160},{"t":170},{"t":180},{"t":190},{"t":210},{"t":220},{"t":230},{"t":240},{"t":260},{"t":270},{"t":280},{"t":290},{"t":310},{"t":320},{"t":330},{"t":340},{"t":360},{"t":370},{"t":380},{"t":390}]},
"resolve":{"scale":{"y":"independent"},"axis":{"y":"independent"}},
"layer":[{"layer":[
{"data":{"name":"cells"},"mark":{"type":"rect","clip":false,"strokeWidth":0.5},"encoding":{"x":{"field":"x","type":"quantitative","scale":{"domain":[0,400],"nice":false,"zero":false},"axis":{"title":null,"values":[0,50,100,150,200,250,300,350,400],"tickSize":-8,"tickColor":"#222","domainColor":"#222","labelFontSize":10,"labelColor":"#222","labelPadding":8,"labelFlush":false,"grid":false,"format":"d"}},"x2":{"field":"x2"},"y":{"field":"y","type":"quantitative","bin":{"binned":true,"step":5},"scale":{"domain":[0,400],"nice":false,"zero":false},"axis":{"title":null,"values":[0,50,100,150,200,250,300,350,400],"tickSize":-10,"tickColor":"#222","domainColor":"#222","labelFontSize":10,"labelColor":"#222","labelPadding":12,"labelFlush":false,"grid":false,"format":"d"}},"color":{"field":"v","type":"quantitative","legend":null,"scale":{"type":"threshold","domain":[1.5,2.5,3.5,4.5,5.5,6.5,7.5,8.5,9.5,10.5,11.5,12.5,13.5,14.5,15.5,16.5,17.5,18.5,19.5],"range":["#6a00ff","#3300ff","#0000ff","#0050ff","#0090ff","#00b0ff","#00ffff","#00ffc0","#00ff88","#00ff55","#00ff33","#11ff00","#66ff00","#aaff00","#ddff00","#ffee00","#ffaa00","#ff7700","#ff2a00","#ff0000"]}},"stroke":{"field":"v","type":"quantitative","legend":null,"scale":{"type":"threshold","domain":[1.5,2.5,3.5,4.5,5.5,6.5,7.5,8.5,9.5,10.5,11.5,12.5,13.5,14.5,15.5,16.5,17.5,18.5,19.5],"range":["#6a00ff","#3300ff","#0000ff","#0050ff","#0090ff","#00b0ff","#00ffff","#00ffc0","#00ff88","#00ff55","#00ff33","#11ff00","#66ff00","#aaff00","#ddff00","#ffee00","#ffaa00","#ff7700","#ff2a00","#ff0000"]}}}},
{"data":{"name":"minor"},"mark":{"type":"rule","color":"#222"},"encoding":{"x":{"field":"t","type":"quantitative"},"y":{"datum":0},"y2":{"datum":5.5}}},
{"data":{"name":"minor"},"mark":{"type":"rule","color":"#222"},"encoding":{"y":{"field":"t","type":"quantitative"},"x":{"datum":0},"x2":{"datum":7}}},
{"data":{"values":[{}]},"mark":{"type":"rule","color":"#999","strokeWidth":2},"encoding":{"y":{"datum":400}}},
{"data":{"values":[{}]},"mark":{"type":"rule","color":"#999","strokeWidth":2},"encoding":{"x":{"datum":401}}},
{"data":{"values":[{}]},"mark":{"type":"text","text":"LHC,  √s = 13 TeV","fontWeight":"bold","fontSize":12.5,"align":"left","baseline":"alphabetic","color":"#222"},"encoding":{"x":{"datum":0},"y":{"datum":421}}},
{"data":{"values":[{}]},"mark":{"type":"text","text":"MadGraph5_aMC@NLO","fontWeight":"bold","fontSize":12.5,"align":"left","baseline":"alphabetic","color":"#222"},"encoding":{"x":{"datum":0},"y":{"datum":404.5}}},
{"data":{"values":[{}]},"mark":{"type":"text","text":"dilepton channel (e+μ)","fontWeight":"bold","fontSize":12,"align":"right","baseline":"alphabetic","color":"#222"},"encoding":{"x":{"datum":425},"y":{"datum":404.5}}},
{"data":{"values":[{}]},"mark":{"type":"text","text":"ttH events, m","fontWeight":"bold","fontSize":11.8,"align":"right","baseline":"alphabetic","color":"#d63fc8"},"encoding":{"x":{"datum":455},"y":{"datum":426}}},
{"data":{"values":[{}]},"mark":{"type":"text","text":"H","fontWeight":"bold","fontSize":7,"align":"left","baseline":"alphabetic","color":"#d63fc8"},"encoding":{"x":{"datum":456},"y":{"datum":418}}},
{"data":{"values":[{}]},"mark":{"type":"text","text":"=125 GeV","fontWeight":"bold","fontSize":12,"align":"right","baseline":"alphabetic","color":"#d63fc8"},"encoding":{"x":{"datum":538},"y":{"datum":426}}},
{"data":{"values":[{}]},"mark":{"type":"text","text":"(NLO+Shower) P","fontSize":13,"align":"right","baseline":"alphabetic","color":"#222"},"encoding":{"x":{"datum":314},"y":{"datum":-32}}},
{"data":{"values":[{}]},"mark":{"type":"text","text":"T","fontSize":8,"align":"left","baseline":"alphabetic","color":"#222"},"encoding":{"x":{"datum":315},"y":{"datum":-41}}},
{"data":{"values":[{}]},"mark":{"type":"text","text":"(h) [GeV]","fontSize":13,"align":"right","baseline":"alphabetic","color":"#222"},"encoding":{"x":{"datum":400},"y":{"datum":-32}}},
{"data":{"values":[{}]},"mark":{"type":"text","text":"(rec. w/o truth match) P","fontSize":11.5,"angle":270,"align":"right","baseline":"alphabetic","color":"#222"},"encoding":{"x":{"datum":-39},"y":{"datum":325.5}}},
{"data":{"values":[{}]},"mark":{"type":"text","text":"T","fontSize":7.5,"angle":270,"align":"left","baseline":"alphabetic","color":"#222"},"encoding":{"x":{"datum":-33},"y":{"datum":326}}},
{"data":{"values":[{}]},"mark":{"type":"text","text":"(h) [GeV]","fontSize":11.5,"angle":270,"align":"right","baseline":"alphabetic","color":"#222"},"encoding":{"x":{"datum":-39},"y":{"datum":399}}},
{"data":{"values":[{}]},"mark":{"type":"text","text":"d²N","fontWeight":"bold","fontSize":11,"align":"center","baseline":"alphabetic","color":"#222"},"encoding":{"x":{"datum":521},"y":{"datum":232}}},
{"data":{"values":[{}]},"mark":{"type":"rule","color":"#777"},"encoding":{"x":{"datum":490},"x2":{"datum":549},"y":{"datum":228}}},
{"data":{"values":[{}]},"mark":{"type":"text","text":"N(dP","fontWeight":"bold","fontSize":11,"align":"left","baseline":"alphabetic","color":"#222"},"encoding":{"x":{"datum":491},"y":{"datum":213}}},
{"data":{"values":[{}]},"mark":{"type":"text","text":"T","fontWeight":"bold","fontSize":7,"align":"left","baseline":"alphabetic","color":"#222"},"encoding":{"x":{"datum":531},"y":{"datum":207}}},
{"data":{"values":[{}]},"mark":{"type":"text","text":")","fontWeight":"bold","fontSize":11,"align":"left","baseline":"alphabetic","color":"#222"},"encoding":{"x":{"datum":537},"y":{"datum":213}}},
{"data":{"values":[{}]},"mark":{"type":"text","text":"2","fontWeight":"bold","fontSize":7,"align":"left","baseline":"alphabetic","color":"#222"},"encoding":{"x":{"datum":542},"y":{"datum":219}}}
]},
{"data":{"name":"bands"},"mark":{"type":"rect"},"encoding":{"x":{"datum":403},"x2":{"datum":430},"y":{"field":"lo","type":"quantitative","scale":{"domain":[0,0.00203],"nice":false,"zero":false},"axis":{"title":null,"orient":"right","offset":21,"values":[0.0002,0.0004,0.0006,0.0008,0.001,0.0012,0.0014,0.0016,0.0018,0.002],"format":".4~f","tickSize":-10,"tickColor":"#222","domainColor":"#111","labelFontSize":10,"labelColor":"#222","labelPadding":12,"grid":false}},"y2":{"field":"hi"},"color":{"field":"v","type":"quantitative","legend":null,"scale":{"type":"threshold","domain":[1.5,2.5,3.5,4.5,5.5,6.5,7.5,8.5,9.5,10.5,11.5,12.5,13.5,14.5,15.5,16.5,17.5,18.5,19.5],"range":["#6a00ff","#3300ff","#0000ff","#0050ff","#0090ff","#00b0ff","#00ffff","#00ffc0","#00ff88","#00ff55","#00ff33","#11ff00","#66ff00","#aaff00","#ddff00","#ffee00","#ffaa00","#ff7700","#ff2a00","#ff0000"]}}}}
]}
